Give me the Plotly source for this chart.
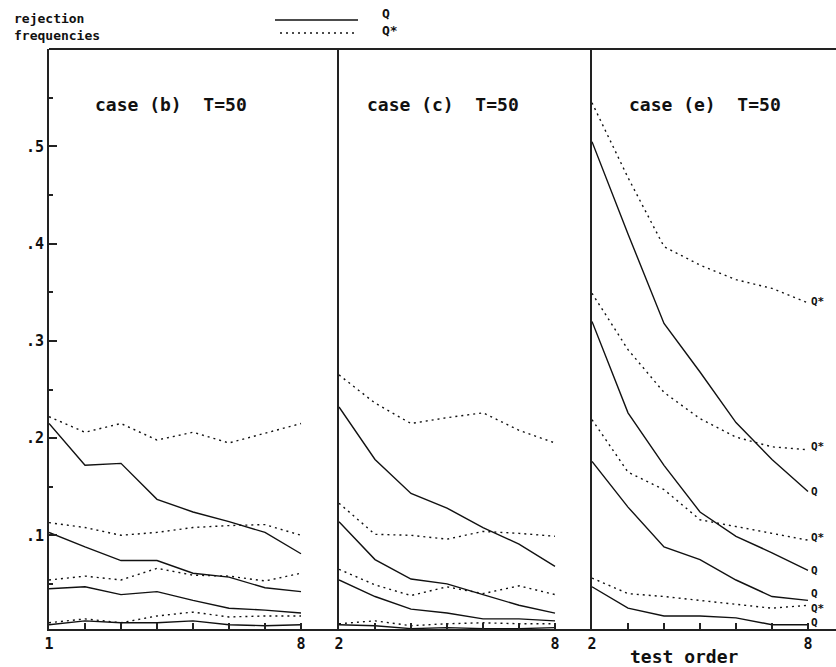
import plotly.graph_objects as go

# ---------------- data ----------------
x_b = [1, 2, 3, 4, 5, 6, 7, 8]
x_ce = [2, 3, 4, 5, 6, 7, 8]

# case (b): four Q (solid) and four Q* (dotted) curves, top to bottom
b_q = [
    [0.215, 0.172, 0.174, 0.137, 0.124, 0.114, 0.103, 0.081],
    [0.103, 0.088, 0.074, 0.074, 0.061, 0.057, 0.046, 0.042],
    [0.045, 0.047, 0.039, 0.042, 0.033, 0.025, 0.023, 0.020],
    [0.008, 0.012, 0.010, 0.010, 0.012, 0.008, 0.007, 0.008],
]
b_qs = [
    [0.222, 0.206, 0.215, 0.198, 0.206, 0.195, 0.205, 0.215],
    [0.113, 0.108, 0.100, 0.103, 0.108, 0.110, 0.111, 0.100],
    [0.054, 0.058, 0.054, 0.066, 0.059, 0.058, 0.053, 0.061],
    [0.010, 0.014, 0.010, 0.017, 0.021, 0.016, 0.017, 0.017],
]
# case (c)
c_q = [
    [0.232, 0.178, 0.143, 0.128, 0.108, 0.091, 0.068],
    [0.114, 0.075, 0.055, 0.050, 0.039, 0.028, 0.020],
    [0.054, 0.037, 0.024, 0.020, 0.014, 0.014, 0.012],
    [0.008, 0.007, 0.004, 0.005, 0.004, 0.004, 0.005],
]
c_qs = [
    [0.265, 0.236, 0.215, 0.221, 0.226, 0.208, 0.195],
    [0.133, 0.101, 0.100, 0.096, 0.104, 0.102, 0.099],
    [0.065, 0.049, 0.038, 0.047, 0.040, 0.048, 0.039],
    [0.009, 0.012, 0.007, 0.009, 0.010, 0.009, 0.009],
]
# case (e)
e_q = [
    [0.505, 0.410, 0.318, 0.268, 0.216, 0.178, 0.145],
    [0.320, 0.226, 0.172, 0.124, 0.099, 0.082, 0.064],
    [0.176, 0.129, 0.088, 0.075, 0.054, 0.037, 0.033],
    [0.047, 0.025, 0.017, 0.017, 0.015, 0.008, 0.008],
]
e_qs = [
    [0.545, 0.468, 0.397, 0.378, 0.363, 0.354, 0.339],
    [0.349, 0.291, 0.247, 0.220, 0.201, 0.191, 0.188],
    [0.219, 0.165, 0.147, 0.116, 0.109, 0.102, 0.095],
    [0.056, 0.040, 0.037, 0.033, 0.029, 0.025, 0.028],
]

panel_titles = ["case (b)  T=50", "case (c)  T=50", "case (e)  T=50"]
y_tick_vals = [0.1, 0.2, 0.3, 0.4, 0.5]
y_tick_text = [".1", ".2", ".3", ".4", ".5"]

# ---------------- layout geometry ----------------
W, H = 836, 667
ML, MR, MT, MB = 49, 0, 49, 38
PW, PH = W - ML - MR, H - MT - MB


def px(xp):
    return (xp - ML) / PW


def py(yp):
    return (H - MB - yp) / PH


FONT = "DejaVu Sans Mono"
INK = "#111111"
DOT = "2px,4px"

fig = go.Figure()

panels = [
    ("x", "y", x_b, b_q, b_qs),
    ("x2", "y2", x_ce, c_q, c_qs),
    ("x3", "y3", x_ce, e_q, e_qs),
]
for xa, ya, xs, qs_solid, qs_dot in panels:
    for ys in qs_dot:
        fig.add_trace(go.Scatter(x=xs, y=ys, xaxis=xa, yaxis=ya, mode="lines",
                                 line=dict(color=INK, width=1.4, dash=DOT),
                                 showlegend=False, hoverinfo="skip"))
    for ys in qs_solid:
        fig.add_trace(go.Scatter(x=xs, y=ys, xaxis=xa, yaxis=ya, mode="lines",
                                 line=dict(color=INK, width=1.4),
                                 showlegend=False, hoverinfo="skip"))

y_range = [0.0036, 0.6003]
doms = [[0, px(339)], [px(339), px(592)], [px(592), 1.0]]
x_ranges = [[1, 1 + 290 / 36], [2, 2 + 253 / 36], [2, 2 + 244 / 36]]
x_ticks = [x_b, x_ce, x_ce]

axis_common = dict(showline=True, linecolor="#222222", linewidth=2,
                   showgrid=False, zeroline=False, fixedrange=True)

layout = dict(
    width=W, height=H,
    margin=dict(l=ML, r=MR, t=MT, b=MB, pad=0),
    paper_bgcolor="white", plot_bgcolor="white",
    showlegend=False,
)
for i in range(3):
    sx = "" if i == 0 else str(i + 1)
    tv = x_ticks[i]
    tt = [str(v) if v in (tv[0], tv[-1]) else "" for v in tv]
    layout["xaxis" + sx] = dict(
        axis_common, domain=doms[i], range=x_ranges[i], anchor="y" + sx,
        tickmode="array", tickvals=tv, ticktext=tt,
        ticks="inside", ticklen=6, tickwidth=1.5, tickcolor="#222222",
        tickfont=dict(family=FONT, size=15, color=INK, weight="bold"),
    )
    ydict = dict(axis_common, range=y_range, anchor="x" + sx, domain=[0, 1])
    if i == 0:
        ydict.update(tickmode="array", tickvals=y_tick_vals, ticktext=y_tick_text,
                     ticks="inside", ticklen=8, tickwidth=1.5, tickcolor="#222222",
                     minor=dict(ticks="inside", ticklen=4, tickwidth=1.5,
                                tickcolor="#222222", tickmode="array",
                                tickvals=[0.05, 0.15, 0.25, 0.35, 0.45, 0.55]),
                     tickfont=dict(family=FONT, size=15, color=INK, weight="bold"))
    else:
        ydict.update(showticklabels=False, ticks="")
    layout["yaxis" + sx] = ydict

fig.update_layout(**layout)

shapes = []
# top frame line
shapes.append(dict(type="line", xref="paper", yref="paper", x0=0, x1=1, y0=1, y1=1,
                   line=dict(color="#222222", width=2)))
# legend lines
shapes.append(dict(type="line", xref="paper", yref="paper", x0=px(275), x1=px(358),
                   y0=py(20), y1=py(20), line=dict(color=INK, width=1.4)))
shapes.append(dict(type="line", xref="paper", yref="paper", x0=px(280), x1=px(357),
                   y0=py(33), y1=py(33), line=dict(color=INK, width=1.4, dash=DOT)))
fig.update_layout(shapes=shapes)

ann = []
tf = dict(family=FONT, size=18, color=INK, weight="bold")
title_x = [93, 365, 627]
for t, xp in zip(panel_titles, title_x):
    ann.append(dict(text=t, xref="paper", yref="paper", x=px(xp), y=py(105),
                    xanchor="left", yanchor="middle", showarrow=False, font=tf))
ann.append(dict(text="rejection<br>frequencies", xref="paper", yref="paper",
                x=px(12), y=py(27), xanchor="left", yanchor="middle", align="left",
                showarrow=False,
                font=dict(family=FONT, size=13, color=INK, weight="bold")))
ann.append(dict(text="Q<br>Q*", xref="paper", yref="paper", x=px(380), y=py(22),
                xanchor="left", yanchor="middle", align="left", showarrow=False,
                font=dict(family=FONT, size=13, color=INK, weight="bold")))
ann.append(dict(text="test order", xref="paper", yref="paper", x=px(628), y=py(656),
                xanchor="left", yanchor="middle", showarrow=False,
                font=dict(family=FONT, size=18, color=INK, weight="bold")))

# end labels for case (e)
lf = dict(family=FONT, size=11, color=INK, weight="bold")
end_labels = []
for ys in e_q:
    end_labels.append(("Q", ys[-1]))
for ys in e_qs:
    end_labels.append(("Q*", ys[-1]))
label_shift = {("Q", 0): 0, ("Q", 1): 0, ("Q", 2): 7, ("Q", 3): 2,
               ("Q*", 0): 1, ("Q*", 1): 3, ("Q*", 2): 3, ("Q*", 3): -3}
cnt = {"Q": 0, "Q*": 0}
for lab, v in end_labels:
    k = (lab, cnt[lab])
    cnt[lab] += 1
    ann.append(dict(text=lab, xref="x3", yref="y3", x=x_ce[-1], y=v,
                    xanchor="left", yanchor="middle", xshift=1, yshift=label_shift[k],
                    showarrow=False, font=lf))
fig.update_layout(annotations=ann)

fig.write_html("out.html")
